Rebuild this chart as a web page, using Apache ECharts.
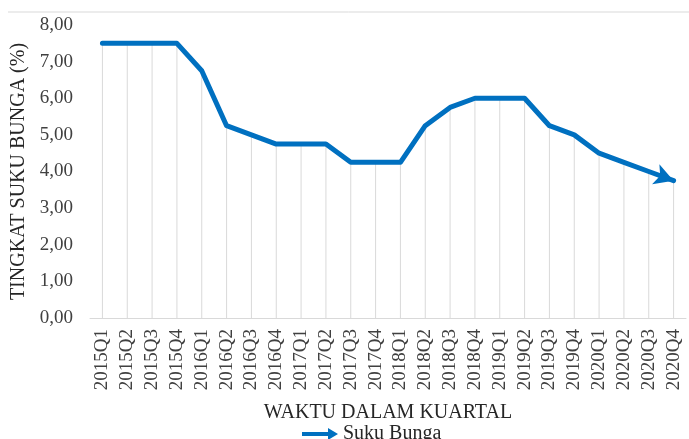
<!DOCTYPE html>
<html>
<head>
<meta charset="utf-8">
<script src="https://cdn.jsdelivr.net/npm/echarts@6/dist/echarts.min.js"></script>
<style>
  html, body { margin: 0; padding: 0; background: #fff; }
  #myChart { width: 689px; height: 439px; }
</style>
</head>
<body>
<div id="myChart"></div>
<script>
// kuartal 2015Q1 - 2020Q4
const categories = ['2015Q1', '2015Q2', '2015Q3', '2015Q4', '2016Q1', '2016Q2', '2016Q3', '2016Q4',
    '2017Q1', '2017Q2', '2017Q3', '2017Q4', '2018Q1', '2018Q2', '2018Q3', '2018Q4',
    '2019Q1', '2019Q2', '2019Q3', '2019Q4', '2020Q1', '2020Q2', '2020Q3', '2020Q4'];
const sukuBunga = [7.5, 7.5, 7.5, 7.5, 6.75, 5.25, 5.0, 4.75,
    4.75, 4.75, 4.25, 4.25, 4.25, 5.25, 5.75, 6.0,
    6.0, 6.0, 5.25, 5.0, 4.5, 4.25, 4.0, 3.75];
const yMin = 0, yMax = 8, yStep = 1;

const serif = '"Liberation Serif", "DejaVu Serif", serif';
const blue = '#0070C0';
const arrowIcon = 'path://M0,4 L26,4 L26,0 L36,6 L26,12 L26,8 L0,8 Z';

let myEchart = echarts.init(document.getElementById('myChart'));

// data terakhir diberi panah
const lineData = sukuBunga.map((v, i) => i === sukuBunga.length - 1
    ? { value: v, symbol: 'arrow', symbolSize: [16, 19], symbolRotate: -110 }
    : v);

myEchart.setOption({
    animation: false,
    textStyle: { fontFamily: serif },
    graphic: [{
        type: 'line',
        shape: { x1: 8, y1: 12, x2: 689, y2: 12 },
        style: { stroke: '#d9d9d9', lineWidth: 1 }
    }],
    legend: {
        data: [{ name: 'Suku Bunga', icon: arrowIcon }],
        left: 302,
        top: 424,
        padding: 0,
        itemWidth: 36,
        itemHeight: 12,
        textStyle: { fontFamily: serif, fontSize: 20, color: '#262626' }
    },
    grid: { left: 90, right: 3, top: 25, bottom: 121, containLabel: false },
    xAxis: {
        type: 'category',
        data: categories,
        boundaryGap: true,
        name: 'WAKTU DALAM KUARTAL',
        nameLocation: 'middle',
        nameGap: 85,
        nameTextStyle: { fontFamily: serif, fontSize: 20, color: '#262626' },
        axisLine: { lineStyle: { color: '#d9d9d9', width: 1 } },
        axisTick: { show: false },
        axisLabel: { rotate: 90, interval: 0, fontFamily: serif, fontSize: 19, color: '#404040', margin: 11 },
        splitLine: { show: false }
    },
    yAxis: {
        type: 'value',
        min: yMin,
        max: yMax,
        interval: yStep,
        name: 'TINGKAT SUKU BUNGA (%)',
        nameLocation: 'middle',
        nameGap: 57,
        nameTextStyle: { fontFamily: serif, fontSize: 20, color: '#262626' },
        axisLine: { show: false },
        axisTick: { show: false },
        splitLine: { show: false },
        axisLabel: {
            fontFamily: serif, fontSize: 19, color: '#404040', margin: 17,
            formatter: v => v.toFixed(2).replace('.', ',')
        }
    },
    series: [
        {
            // garis bantu vertikal dari tiap titik
            name: 'drop',
            type: 'bar',
            barWidth: 1,
            data: sukuBunga,
            itemStyle: { color: '#d9d9d9' },
            silent: true,
            z: 1
        },
        {
            name: 'Suku Bunga',
            type: 'line',
            data: lineData,
            symbol: 'none',
            showSymbol: true,
            lineStyle: { color: blue, width: 5, join: 'round', cap: 'round' },
            itemStyle: { color: blue },
            z: 3
        }
    ]
});
</script>
</body>
</html>
